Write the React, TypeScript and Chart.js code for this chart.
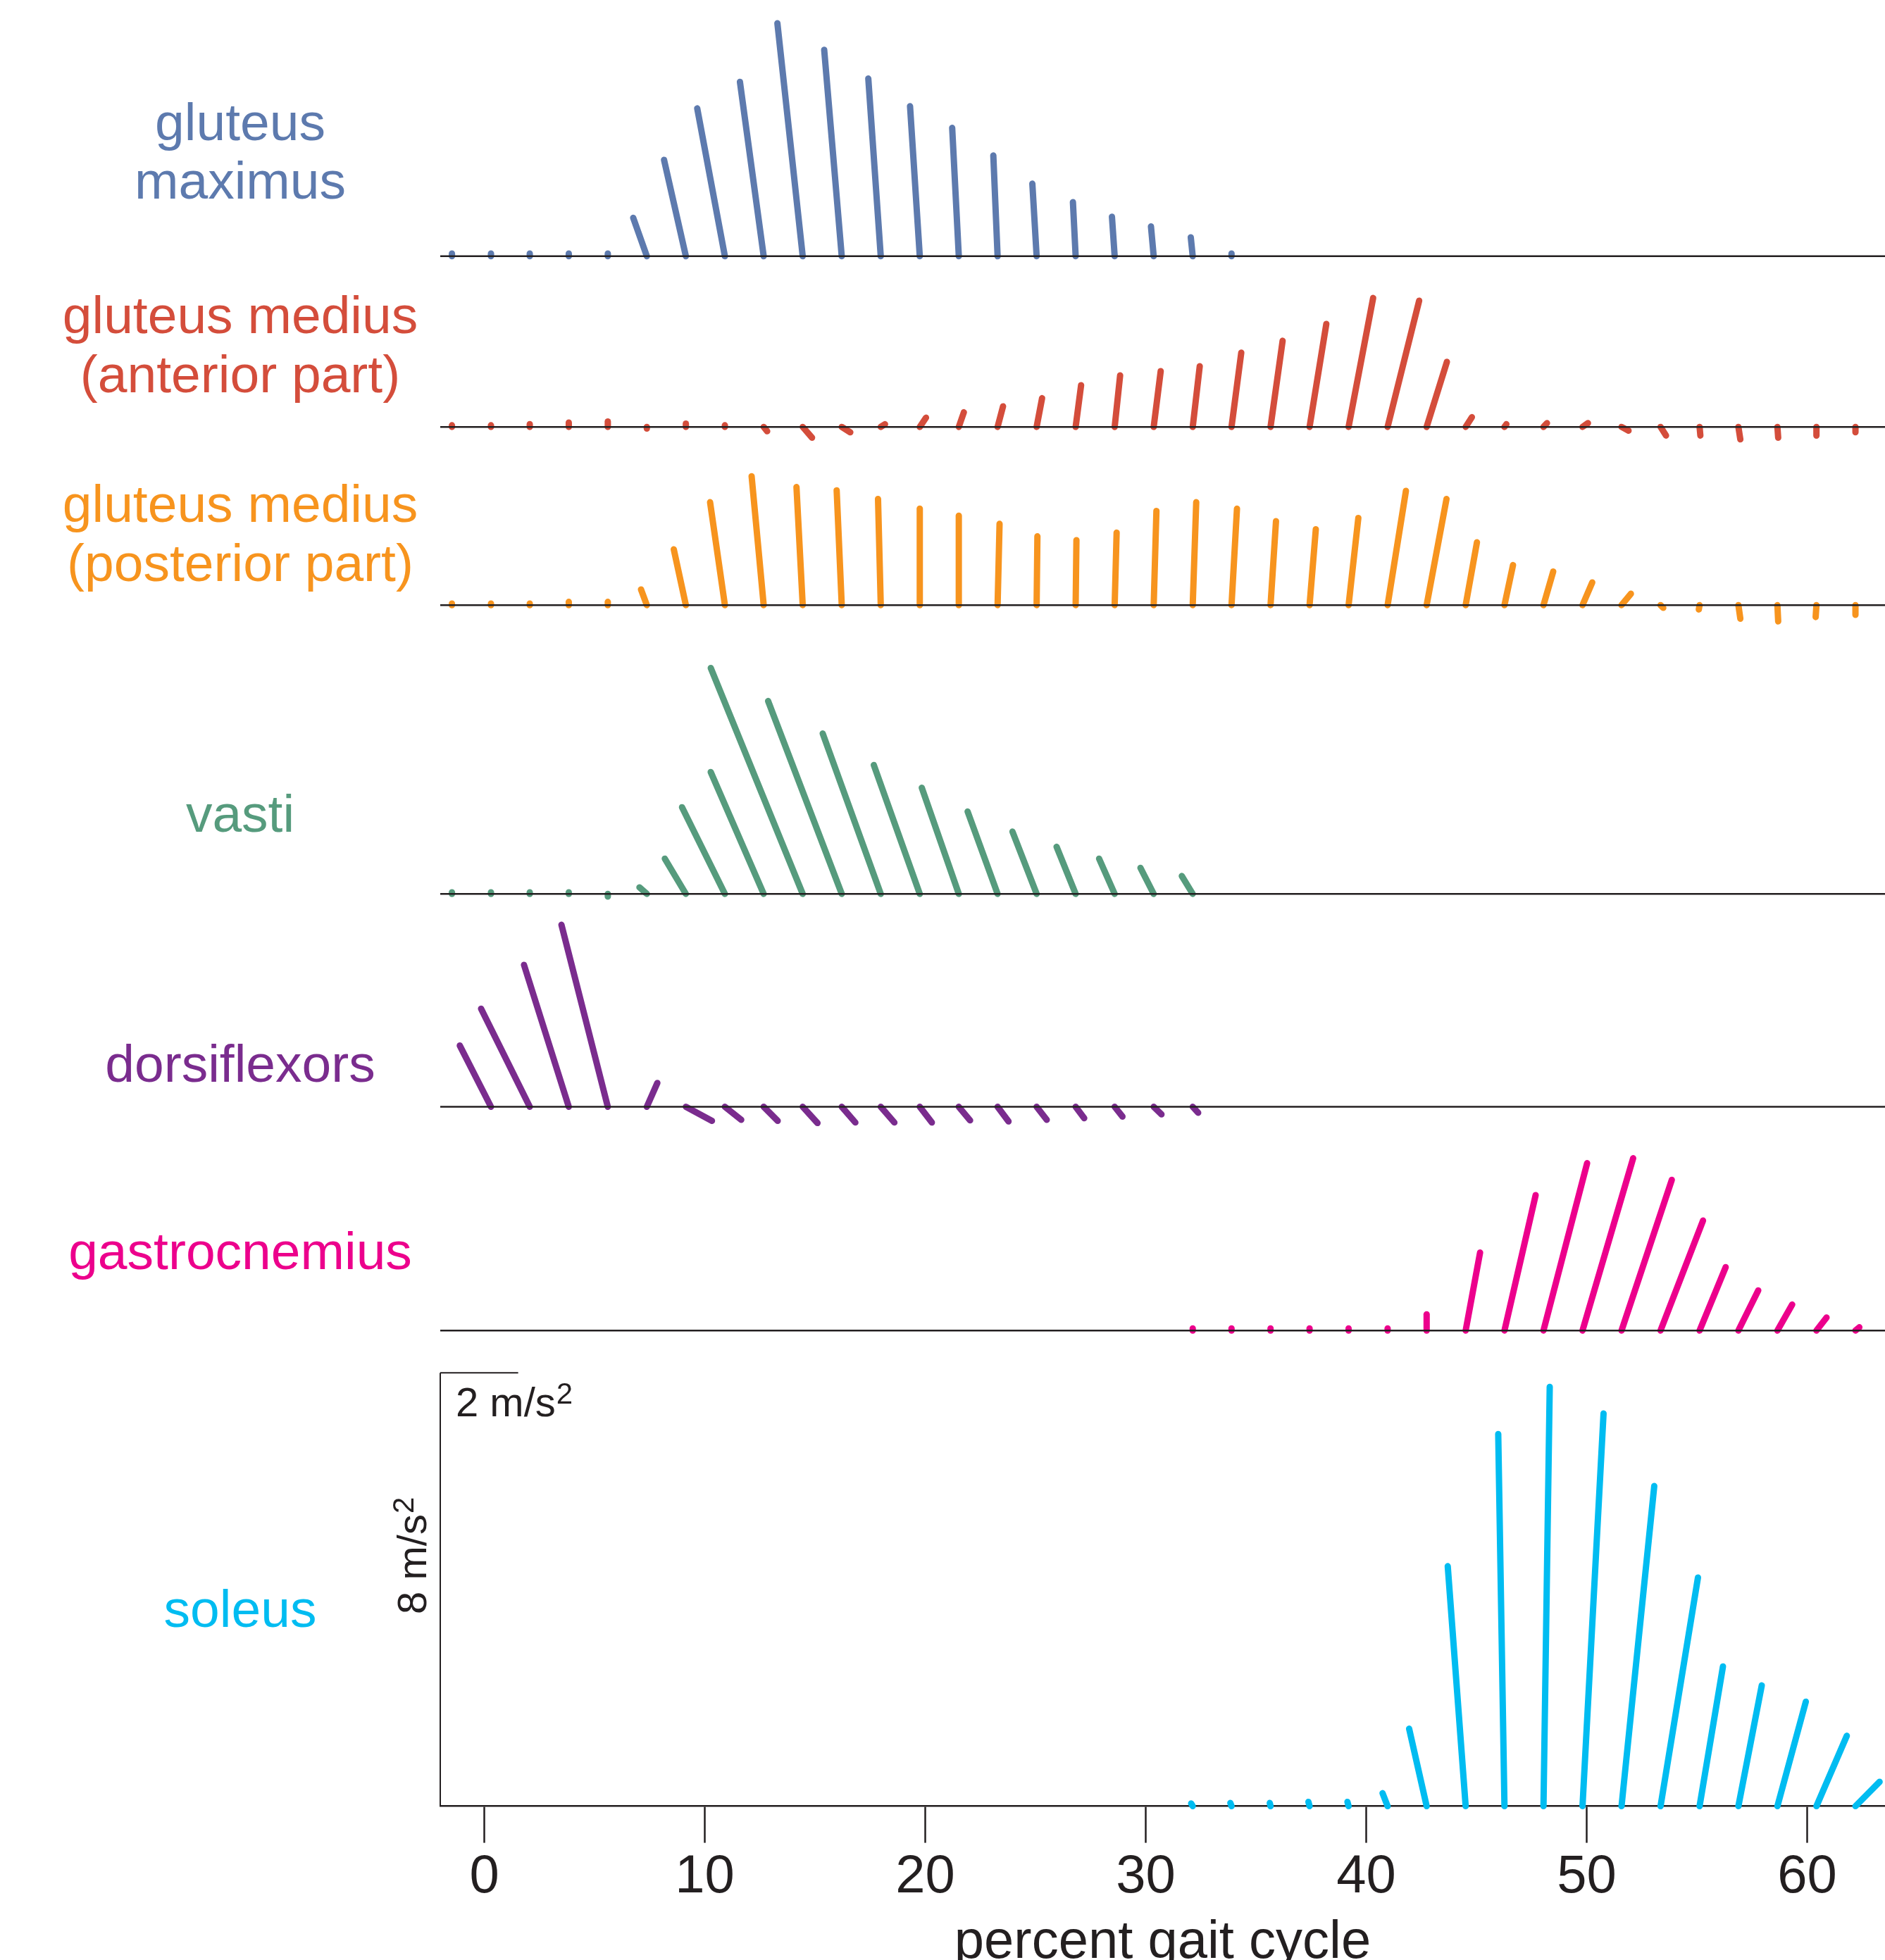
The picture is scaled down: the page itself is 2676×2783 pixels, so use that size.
import React, { useEffect, useRef } from 'react';
import { Chart, registerables } from 'chart.js';

Chart.register(...registerables);

const FONT = "'Liberation Sans', Arial, Helvetica, sans-serif";
const INK = '#231F20';

// sample instants (percent gait cycle) at which the acceleration vectors are drawn
const gaitPct = [
  -1.47, 0.3, 2.06, 3.83, 5.6, 7.37, 9.14, 10.91, 12.67, 14.44, 16.21, 17.98, 19.75,
  21.52, 23.28, 25.05, 26.82, 28.59, 30.36, 32.13, 33.89, 35.66, 37.43, 39.2, 40.97,
  42.74, 44.51, 46.27, 48.04, 49.81, 51.58, 53.35, 55.12, 56.88, 58.65, 60.42, 62.19,
];

const xTicks = [0, 10, 20, 30, 40, 50, 60];

// fore-aft (m/s^2) and vertical (m/s^2) acceleration of the body mass centre
const gmaxStart = 0;
const gmaxFore = [0, 0, 0, 0, 0, -0.35, -0.56, -0.71, -0.61, -0.65, -0.45, -0.32, -0.25, -0.17, -0.11, -0.11, -0.07, -0.07, -0.07, -0.05, 0];
const gmaxVert = [0.05, 0.05, 0.05, 0.05, 0.05, 0.71, 1.78, 2.73, 3.22, 4.3, 3.81, 3.28, 2.77, 2.37, 1.86, 1.34, 1.0, 0.73, 0.55, 0.35, 0.05];

const gmedAntStart = 0;
const gmedAntFore = [0, 0, 0, 0, 0, 0, 0, 0, 0.09, 0.24, 0.22, 0.11, 0.16, 0.13, 0.14, 0.14, 0.14, 0.14, 0.18, 0.18, 0.25, 0.31, 0.43, 0.63, 0.81, 0.52, 0.16, 0.05, 0.09, 0.14, 0.18, 0.14, 0.02, 0.05, 0.02, 0, 0];
const gmedAntVert = [0.03, 0.03, 0.05, 0.08, 0.1, -0.03, 0.06, 0.03, -0.08, -0.2, -0.1, 0.05, 0.17, 0.27, 0.38, 0.53, 0.77, 0.95, 1.03, 1.12, 1.37, 1.59, 1.9, 2.38, 2.33, 1.2, 0.18, 0.05, 0.07, 0.07, -0.07, -0.16, -0.16, -0.23, -0.2, -0.16, -0.1];

const gmedPostStart = 0;
const gmedPostFore = [0, 0, 0, 0, 0, -0.15, -0.31, -0.38, -0.31, -0.16, -0.13, -0.07, 0, 0, 0.05, 0.02, 0.02, 0.05, 0.07, 0.09, 0.14, 0.14, 0.16, 0.25, 0.47, 0.51, 0.29, 0.22, 0.25, 0.25, 0.24, 0.07, -0.02, 0.05, 0.02, -0.02, 0];
const gmedPostVert = [0.03, 0.03, 0.03, 0.06, 0.06, 0.29, 1.03, 1.9, 2.38, 2.18, 2.12, 1.96, 1.78, 1.65, 1.5, 1.27, 1.2, 1.34, 1.74, 1.9, 1.78, 1.55, 1.4, 1.61, 2.11, 1.96, 1.16, 0.74, 0.62, 0.42, 0.21, -0.05, -0.08, -0.25, -0.3, -0.22, -0.18];

const vastiStart = 0;
const vastiFore = [0, 0, 0, 0, 0, -0.19, -0.54, -1.1, -1.36, -2.36, -1.89, -1.49, -1.18, -0.95, -0.77, -0.62, -0.49, -0.4, -0.34, -0.28];
const vastiVert = [0.03, 0.03, 0.03, 0.03, -0.05, 0.12, 0.65, 1.6, 2.25, 4.17, 3.56, 2.96, 2.38, 1.96, 1.52, 1.15, 0.87, 0.65, 0.48, 0.33];

const dorsiStart = 1;
const dorsiFore = [-0.8, -1.25, -1.15, -1.19, 0.27, 0.67, 0.42, 0.36, 0.38, 0.35, 0.35, 0.31, 0.29, 0.28, 0.26, 0.22, 0.2, 0.2, 0.14];
const dorsiVert = [1.13, 1.81, 2.62, 3.36, 0.44, -0.26, -0.24, -0.26, -0.3, -0.29, -0.29, -0.29, -0.25, -0.27, -0.24, -0.21, -0.18, -0.14, -0.11];

const gastStart = 19;
const gastFore = [0, 0, 0, 0, 0, 0, 0, 0.37, 0.8, 1.12, 1.3, 1.29, 1.09, 0.67, 0.51, 0.38, 0.26, 0.1];
const gastVert = [0.04, 0.04, 0.04, 0.04, 0.04, 0.04, 0.3, 1.44, 2.5, 3.09, 3.18, 2.78, 2.03, 1.17, 0.74, 0.48, 0.24, 0.06];

const solStart = 19;
const solFore = [-0.04, -0.03, -0.02, -0.03, -0.03, -0.13, -0.45, -0.46, -0.16, 0.16, 0.54, 0.84, 0.96, 0.6, 0.6, 0.73, 0.78, 0.62];
const solVert = [0.05, 0.06, 0.06, 0.08, 0.08, 0.24, 1.43, 4.43, 6.87, 7.74, 7.25, 5.91, 4.22, 2.58, 2.23, 1.93, 1.3, 0.45];

const muscleLabels = [
  ['gluteus', 'maximus'],
  ['gluteus medius', '(anterior part)'],
  ['gluteus medius', '(posterior part)'],
  ['vasti'],
  ['dorsiflexors'],
  ['gastrocnemius'],
  ['soleus'],
];

// ---------- layout / style (not data) ----------
const W = 2676;
const H = 2783;
const X_MIN = -2.0;
const X_MAX = 63.53;
const Y_MAX = 33.34;
const PCT_PER_MS2 = 1.767; // horizontal vector scale: 2 m/s^2 bar width in % gait units
const rowBase = [28.61, 25.46, 22.17, 16.84, 12.91, 8.78, 0];
const colors = ['#5D7AAE', '#D44D3B', '#F7941E', '#569B7D', '#7A2C8E', '#EC008C', '#00BCF1'];
const labelBaselines = [[199, 282], [473, 557], [741, 825], [1181], [1536], [1802], [2310]];
const LABEL_X = 341;

const series = [
  { start: gmaxStart, fore: gmaxFore, vert: gmaxVert },
  { start: gmedAntStart, fore: gmedAntFore, vert: gmedAntVert },
  { start: gmedPostStart, fore: gmedPostFore, vert: gmedPostVert },
  { start: vastiStart, fore: vastiFore, vert: vastiVert },
  { start: dorsiStart, fore: dorsiFore, vert: dorsiVert },
  { start: gastStart, fore: gastFore, vert: gastVert },
  { start: solStart, fore: solFore, vert: solVert },
];

function buildDatasets() {
  const ds: any[] = [];
  // baselines of the upper rows (the bottom row uses the x axis line)
  rowBase.forEach((b, i) => {
    if (i === rowBase.length - 1) return;
    ds.push({
      data: [{ x: X_MIN, y: b }, { x: X_MAX, y: b }],
      borderColor: INK, borderWidth: 2.5, pointRadius: 0, order: 0, clip: false,
    });
  });
  // scale bars
  ds.push({
    data: [{ x: X_MIN, y: 0 }, { x: X_MIN, y: 8 }],
    borderColor: INK, borderWidth: 2, pointRadius: 0, order: 0, clip: false,
  });
  ds.push({
    data: [{ x: X_MIN, y: 8 }, { x: X_MIN + 2 * PCT_PER_MS2, y: 8 }],
    borderColor: INK, borderWidth: 2, pointRadius: 0, order: 0, clip: false,
  });
  // vectors
  series.forEach((s, i) => {
    s.fore.forEach((f, j) => {
      const base = gaitPct[s.start + j];
      ds.push({
        data: [
          { x: base, y: rowBase[i] },
          { x: base + f * PCT_PER_MS2, y: rowBase[i] + s.vert[j] },
        ],
        borderColor: colors[i],
        borderWidth: 9,
        borderCapStyle: 'round',
        pointRadius: 0,
        order: 1,
        clip: false,
      });
    });
  });
  return ds;
}

const textPlugin = {
  id: 'muscleText',
  afterDraw(chart: any) {
    const ctx = chart.ctx as CanvasRenderingContext2D;
    const xs = chart.scales.x;
    const ys = chart.scales.y;
    ctx.save();
    ctx.textBaseline = 'alphabetic';
    ctx.textAlign = 'center';
    ctx.font = `75px ${FONT}`;
    muscleLabels.forEach((lines, i) => {
      ctx.fillStyle = colors[i];
      lines.forEach((line, j) => ctx.fillText(line, LABEL_X, labelBaselines[i][j]));
    });

    // scale-bar labels
    ctx.fillStyle = INK;
    ctx.textAlign = 'left';
    const drawUnit = (num: string, x: number, y: number) => {
      ctx.font = `58px ${FONT}`;
      const main = `${num} m/s`;
      ctx.fillText(main, x, y);
      const w = ctx.measureText(main).width;
      ctx.font = `42px ${FONT}`;
      ctx.fillText('2', x + w + 1, y - 18);
    };
    const x0 = xs.getPixelForValue(X_MIN);
    const yTop = ys.getPixelForValue(8);
    drawUnit('2', x0 + 22, yTop + 62);
    ctx.save();
    ctx.translate(x0 - 20, ys.getPixelForValue(4) + 35);
    ctx.rotate(-Math.PI / 2);
    drawUnit('8', 0, 0);
    ctx.restore();
    ctx.restore();
  },
};

export default function App() {
  const ref = useRef<HTMLCanvasElement | null>(null);
  useEffect(() => {
    if (!ref.current) return;
    const chart = new Chart(ref.current, {
      type: 'line',
      data: { datasets: buildDatasets() },
      options: {
        animation: false,
        responsive: false,
        maintainAspectRatio: false,
        devicePixelRatio: 1,
        layout: { padding: { left: 625, right: 0, top: 0, bottom: 0 } },
        plugins: { legend: { display: false }, tooltip: { enabled: false } },
        elements: { point: { radius: 0 }, line: { tension: 0 } },
        scales: {
          x: {
            type: 'linear',
            position: 'bottom',
            min: X_MIN,
            max: X_MAX,
            afterBuildTicks: (s: any) => {
              s.ticks = xTicks.map((v) => ({ value: v }));
            },
            grid: {
              display: true,
              drawOnChartArea: false,
              drawTicks: true,
              tickLength: 52,
              tickWidth: 2.5,
              tickColor: INK,
              color: INK,
            },
            border: { display: true, color: INK, width: 2.5 },
            ticks: {
              font: { size: 76, family: FONT },
              color: INK,
              padding: 4,
              maxRotation: 0,
              minRotation: 0,
              autoSkip: false,
            },
            title: {
              display: true,
              text: 'percent gait cycle',
              font: { size: 76, family: FONT },
              color: INK,
              padding: { top: -2, bottom: -22 },
            },
          },
          y: { type: 'linear', display: false, min: 0, max: Y_MAX },
        },
      },
      plugins: [textPlugin],
    } as any);
    return () => chart.destroy();
  }, []);
  return (
    <div style={{ position: 'absolute', left: 0, top: 0, width: W, height: H, background: '#fff', overflow: 'hidden' }}>
      <canvas ref={ref} width={W} height={H} style={{ display: 'block', width: W, height: H }} />
    </div>
  );
}
